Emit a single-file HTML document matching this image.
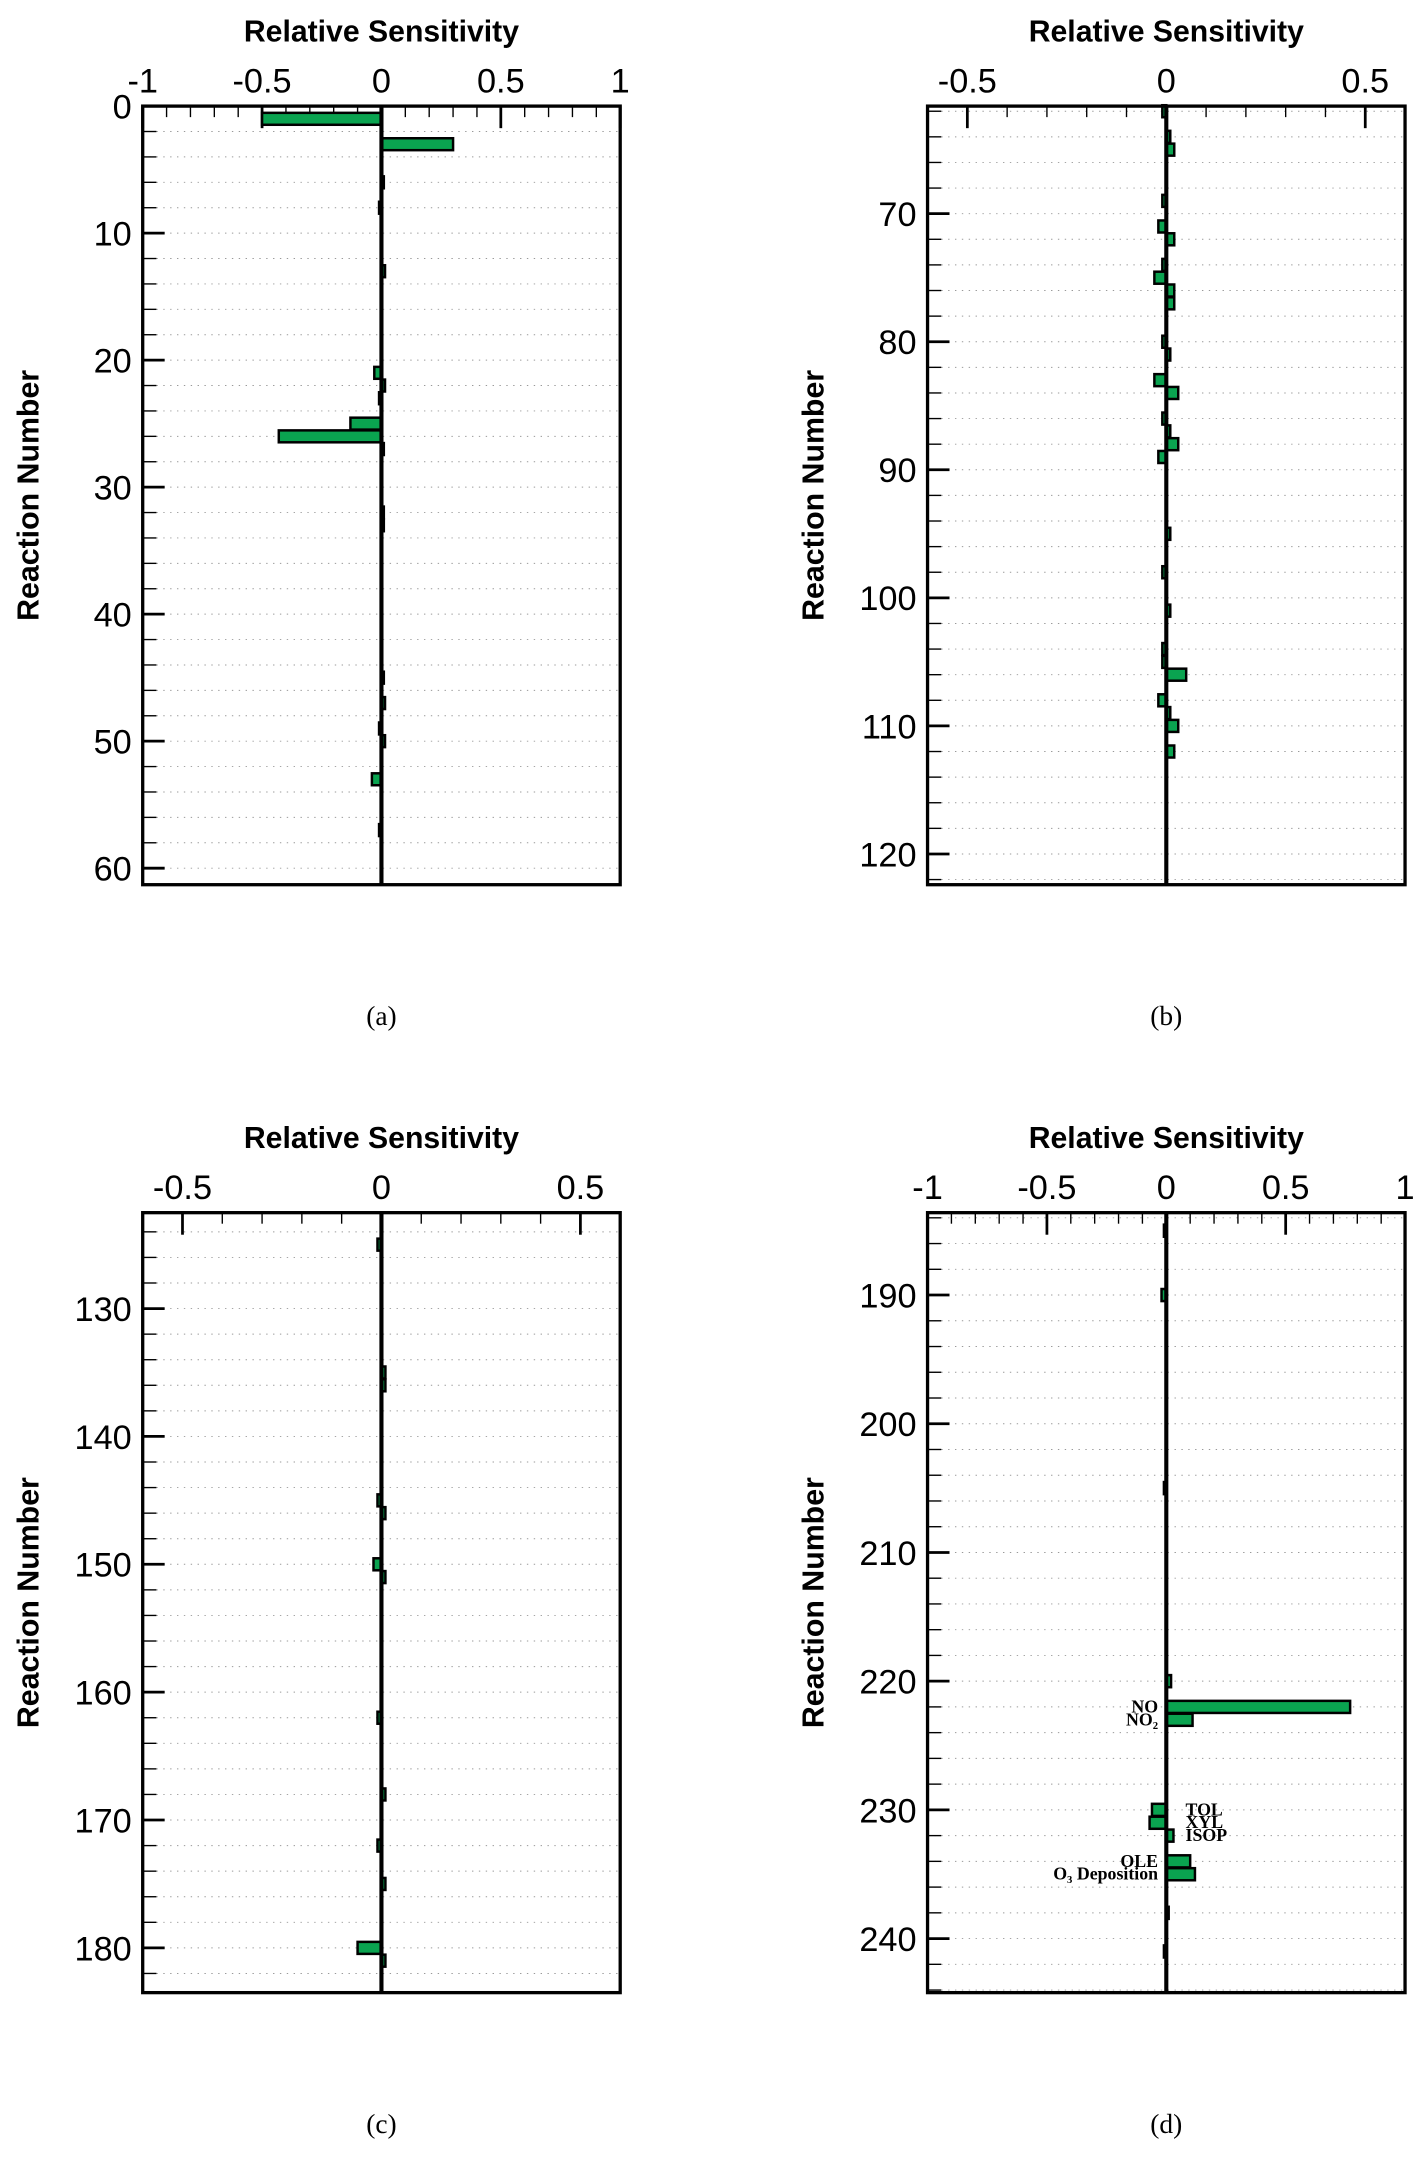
<!DOCTYPE html>
<html><head><meta charset="utf-8"><style>
html,body{margin:0;padding:0;background:#fff}
svg{display:block}
.tl{font-family:"Liberation Sans",sans-serif;font-size:25px;fill:#000}
.tt{font-family:"Liberation Sans",sans-serif;font-size:22px;font-weight:bold;fill:#000}
.cap{font-family:"Liberation Serif",serif;font-size:20px;fill:#000}
.ann{font-family:"Liberation Serif",serif;font-size:13px;font-weight:bold;fill:#000}
</style></head><body>
<svg id="fig" width="1427" height="2158" viewBox="0 0 1040 1566" preserveAspectRatio="none" xmlns="http://www.w3.org/2000/svg"></svg>
<script>
// Panel (a)
const aReactions = [1,3,6,8,13,21,22,23,25,26,27,32,33,45,47,49,50,53,57];
const aValues = [-0.5,0.3,0.01,-0.01,0.015,-0.03,0.015,-0.01,-0.13,-0.43,0.01,0.01,0.01,0.01,0.015,-0.01,0.015,-0.04,-0.01];
const aXTicks = [-1,-0.5,0,0.5,1];
const aYTicks = [0,10,20,30,40,50,60];
// Panel (b)
const bReactions = [62,64,65,69,71,72,74,75,76,77,80,81,83,84,86,87,88,89,95,98,101,104,105,106,108,109,110,112];
const bValues = [-0.01,0.01,0.02,-0.01,-0.02,0.02,-0.01,-0.03,0.02,0.02,-0.01,0.01,-0.03,0.03,-0.01,0.01,0.03,-0.02,0.01,-0.01,0.01,-0.01,-0.01,0.05,-0.02,0.01,0.03,0.02];
const bXTicks = [-0.5,0,0.5];
const bYTicks = [70,80,90,100,110,120];
// Panel (c)
const cReactions = [125,135,136,145,146,150,151,162,168,172,175,180,181];
const cValues = [-0.01,0.01,0.01,-0.01,0.01,-0.02,0.01,-0.01,0.01,-0.01,0.01,-0.06,0.01];
const cXTicks = [-0.5,0,0.5];
const cYTicks = [130,140,150,160,170,180];
// Panel (d)
const dReactions = [185,190,205,220,222,223,230,231,232,234,235,238,241];
const dValues = [-0.01,-0.02,-0.01,0.02,0.77,0.11,-0.06,-0.07,0.03,0.1,0.12,0.01,-0.01];
const dXTicks = [-1,-0.5,0,0.5,1];
const dYTicks = [190,200,210,220,230,240];
const dLabels = [["NO",222,"end"],["NO₂",223,"end"],["TOL",230,"start"],["XYL",231,"start"],["ISOP",232,"start"],["OLE",234,"end"],["O₃ Deposition",235,"end"]];

const NS="http://www.w3.org/2000/svg";
const fig=document.getElementById('fig');
function mk(tag,attrs,parent){const e=document.createElementNS(NS,tag);for(const k in attrs)e.setAttribute(k,attrs[k]);(parent||fig).appendChild(e);return e;}

function panel(id,box,xd,yd,xt,yt,minorX,cats,vals,cap){
  const g=mk('g',{});
  
  
  const [L,T,R,B]=box;
  const X=v=>L+(v-xd[0])/(xd[1]-xd[0])*(R-L);
  const Y=v=>T+(v-yd[0])/(yd[1]-yd[0])*(B-T);
  let s=Math.ceil(yd[0]/2)*2;
  for(let v=s;v<=yd[1];v+=2){
    const y=Y(v);
    const gl=mk('line',{x1:L,x2:R,y1:y,y2:y,stroke:'#999','stroke-width':0.7,'stroke-dasharray':'1 4'},g);
    
    
    const major=v%10===0;
    mk('line',{x1:L,x2:L+(major?16:10),y1:y,y2:y,stroke:'#000','stroke-width':major?2:1},g);
  }
  yt.forEach(v=>{
    const t=mk('text',{x:L-8,y:Y(v)+9,'text-anchor':'end',class:'tl'},g);t.textContent=v;
    
    
  });
  const ns=Math.round((xd[1]-xd[0])/minorX);
  for(let i=0;i<=ns;i++){
    const v=xd[0]+i*minorX;const x=X(v);
    const major=xt.some(t=>Math.abs(t-v)<1e-6);
    mk('line',{x1:x,x2:x,y1:T,y2:T+(major?16:8),stroke:'#000','stroke-width':major?2:1},g);
  }
  xt.forEach(v=>{
    const t=mk('text',{x:X(v),y:T-10,'text-anchor':'middle',class:'tl'},g);t.textContent=v;
    
    
  });
  cats.forEach((c,i)=>{
    const v=vals[i];const x0=X(0),x1=X(v);
    const r=mk('rect',{x:Math.min(x0,x1),y:Y(c-0.47),width:Math.max(Math.abs(x1-x0),1.5),height:Y(c+0.47)-Y(c-0.47),fill:'#0aa350',stroke:'#000','stroke-width':1.8},g);
    
    
  });
  const z=mk('line',{x1:X(0),x2:X(0),y1:T,y2:B,stroke:'#000','stroke-width':3},g);
  
  
  const bx=mk('rect',{x:L,y:T,width:R-L,height:B-T,fill:'none',stroke:'#000','stroke-width':2.4},g);
  
  
  const xt1=mk('text',{x:(L+R)/2,y:T-47,'text-anchor':'middle',class:'tt'},g);xt1.textContent='Relative Sensitivity';
  
  
  const yt1=mk('text',{x:0,y:0,'text-anchor':'middle',class:'tt',transform:`translate(${L-76},${(T+B)/2}) rotate(-90)`},g);yt1.textContent='Reaction Number';
  
  
  const cp=mk('text',{x:(L+R)/2,y:B+102,'text-anchor':'middle',class:'cap'},g);cp.textContent=cap;
  
  
  return {X,Y,g};
}
panel('a',[104,77,452,642],[-1,1],[0,61.3],aXTicks,aYTicks,0.1,aReactions,aValues,'(a)');
panel('b',[676,77,1024,642],[-0.6,0.6],[61.6,122.4],bXTicks,bYTicks,0.1,bReactions,bValues,'(b)');
panel('c',[104,880,452,1446],[-0.6,0.6],[122.5,183.5],cXTicks,cYTicks,0.1,cReactions,cValues,'(c)');
const pd=panel('d',[676,880,1024,1446],[-1,1],[183.6,244.2],dXTicks,dYTicks,0.1,dReactions,dValues,'(d)');
dLabels.forEach(([txt,r,anc])=>{
  const x=anc==='end'?pd.X(0)-6:pd.X(0)+14;
  const t=mk('text',{x:x,y:pd.Y(r)+4,'text-anchor':anc,class:'ann'},pd.g);t.textContent=txt;
  
  
});
</script>
</body></html>
